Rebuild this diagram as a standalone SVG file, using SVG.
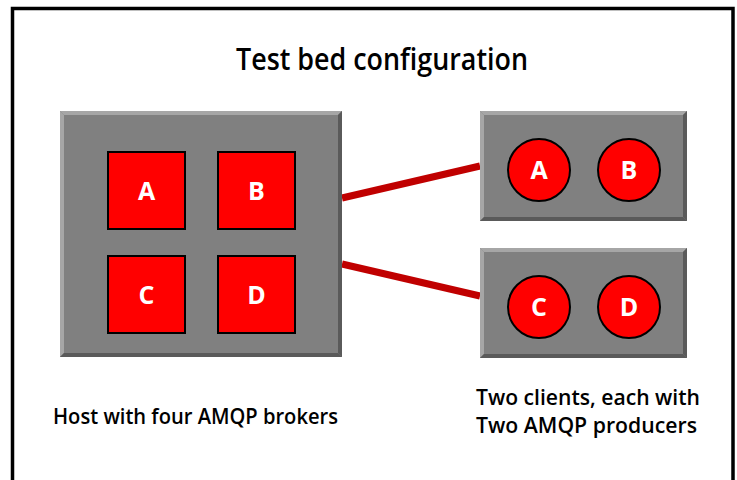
<svg xmlns="http://www.w3.org/2000/svg" width="737" height="480" viewBox="0 0 737 480">
<style>
.t{font-family:"Open Sans","Liberation Sans",sans-serif;fill:#000}
.lbl{font-family:"Open Sans","Liberation Sans",sans-serif;font-weight:700;font-size:25px;fill:#fff;text-anchor:middle}
.box{fill:#808080}
.hl{fill:#a6a6a6}
.sh{fill:#5a5a5a}
.sq{fill:#ff0000;stroke:#000;stroke-width:2}
.conn{stroke:#c00000;stroke-width:7;fill:none}
</style>
<path d="M12.5,480 V8.5 H733 V480" fill="none" stroke="#000" stroke-width="3.5"/>
<text class="t" x="236" y="70" font-size="30" font-weight="600" textLength="292" lengthAdjust="spacingAndGlyphs">Test bed configuration</text>
<g id="connectors">
<line class="conn" x1="342" y1="198" x2="480" y2="166"/>
<line class="conn" x1="342" y1="264" x2="480" y2="296"/>
</g>
<g id="host">
<rect class="box" x="60" y="111" width="282" height="246"/>
<polygon class="hl" points="60,111 342,111 338,115 64,115"/>
<polygon class="hl" points="60,111 64,115 64,353 60,357"/>
<polygon class="sh" points="342,111 342,357 338,353 338,115"/>
<polygon class="sh" points="60,357 342,357 338,353 64,353"/>
</g>
<g id="brokerA"><rect class="sq" x="108" y="152" width="77" height="77"/><text class="lbl" x="146.5" y="199.5">A</text></g>
<g id="brokerB"><rect class="sq" x="218" y="152" width="77" height="77"/><text class="lbl" x="256.5" y="199.5">B</text></g>
<g id="brokerC"><rect class="sq" x="108" y="256" width="77" height="77"/><text class="lbl" x="146.5" y="303.5">C</text></g>
<g id="brokerD"><rect class="sq" x="218" y="256" width="77" height="77"/><text class="lbl" x="256.5" y="303.5">D</text></g>
<g id="client1">
<rect class="box" x="480" y="111" width="207" height="110"/>
<polygon class="hl" points="480,111 687,111 683,115 484,115"/>
<polygon class="hl" points="480,111 484,115 484,217 480,221"/>
<polygon class="sh" points="687,111 687,221 683,217 683,115"/>
<polygon class="sh" points="480,221 687,221 683,217 484,217"/>
<circle class="sq" cx="539" cy="170" r="31"/><text class="lbl" x="539" y="179">A</text>
<circle class="sq" cx="629" cy="170" r="31"/><text class="lbl" x="629" y="179">B</text>
</g>
<g id="client2">
<rect class="box" x="480" y="248" width="207" height="110"/>
<polygon class="hl" points="480,248 687,248 683,252 484,252"/>
<polygon class="hl" points="480,248 484,252 484,354 480,358"/>
<polygon class="sh" points="687,248 687,358 683,354 683,252"/>
<polygon class="sh" points="480,358 687,358 683,354 484,354"/>
<circle class="sq" cx="539" cy="307" r="31"/><text class="lbl" x="539" y="316">C</text>
<circle class="sq" cx="629" cy="307" r="31"/><text class="lbl" x="629" y="316">D</text>
</g>
<text class="t" x="53" y="424" font-size="21" font-weight="600" textLength="285" lengthAdjust="spacingAndGlyphs">Host with four AMQP brokers</text>
<text class="t" x="476" y="405" font-size="21" font-weight="600" textLength="224" lengthAdjust="spacingAndGlyphs">Two clients, each with</text>
<text class="t" x="476" y="433" font-size="21" font-weight="600" textLength="221" lengthAdjust="spacingAndGlyphs">Two AMQP producers</text>
</svg>
